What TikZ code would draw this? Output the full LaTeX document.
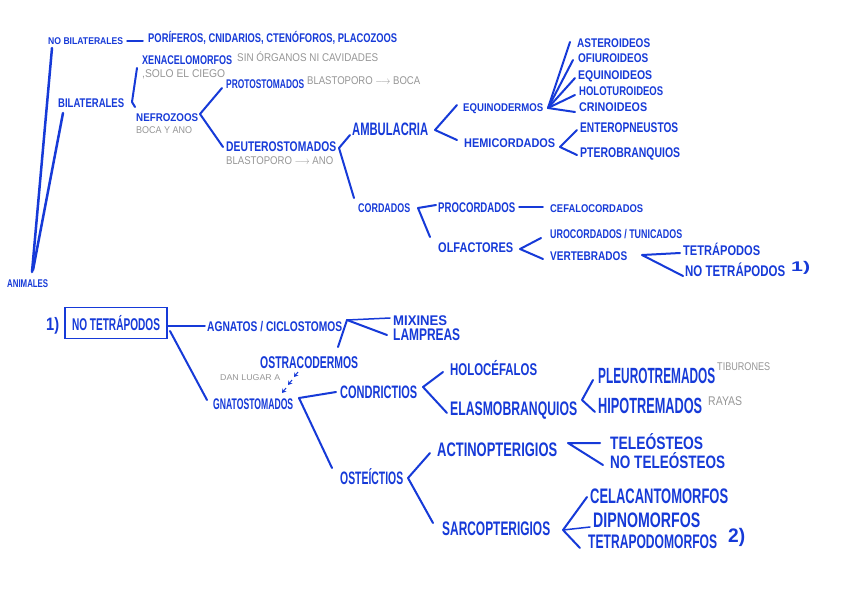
\documentclass[tikz,border=0pt]{standalone}
\usepackage{fontspec}
\setmainfont{Liberation Sans}
\usepackage{graphicx}
\usetikzlibrary{arrows.meta}
\definecolor{hb}{RGB}{22,58,216}
\definecolor{gr}{RGB}{150,150,150}
\newcommand\T[3]{\fontsize{#2}{#2}\selectfont\resizebox{#1pt}{\height}{#3}}
\begin{document}
\begin{tikzpicture}[x=1pt,y=-1pt,
  b/.style={anchor=base west,inner sep=0pt,text=hb,font=\bfseries},
  g/.style={anchor=base west,inner sep=0pt,text=gr},
  ln/.style={draw=hb,line width=2pt,line cap=round,line join=round},
  thin ln/.style={draw=hb,line width=1.5pt,line cap=round}]
\useasboundingbox (0,0) rectangle (848,600);
\fill[white] (0,0) rectangle (848,600);

% ---------- upper tree ----------
\node[b] (animales) at (7,287) {\T{41}{11.2}{ANIMALES}};
\node[b] (nobil) at (48,44.5) {\T{75}{9.8}{NO BILATERALES}};
\node[b] (porif) at (148,42.5) {\T{249}{12.6}{PORÍFEROS, CNIDARIOS, CTENÓFOROS, PLACOZOOS}};
\node[b] (bil) at (58,107.5) {\T{66}{12.6}{BILATERALES}};
\node[b] (xena) at (142,64.5) {\T{90}{12.6}{XENACELOMORFOS}};
\node[g] (xenag1) at (237,61) {\T{141}{11.2}{SIN ÓRGANOS NI CAVIDADES}};
\node[g] (xenag2) at (142,77) {\T{83}{11.2}{,SOLO EL CIEGO}};
\node[b] (nefro) at (136,121) {\T{62}{11.2}{NEFROZOOS}};
\node[g] (nefrog) at (136,133.5) {\T{56}{9.8}{BOCA Y ANO}};
\node[b] (proto) at (226,88.5) {\T{78}{12.6}{PROTOSTOMADOS}};
\node[g] (protog) at (307,84) {\T{113}{11.2}{BLASTOPORO $\longrightarrow$ BOCA}};
\node[b] (deut) at (226,151) {\T{110}{14}{DEUTEROSTOMADOS}};
\node[g] (deutg) at (226,164) {\T{107}{11.2}{BLASTOPORO $\longrightarrow$ ANO}};
\node[b] (ambu) at (352,135.5) {\T{76}{18}{AMBULACRIA}};
\node[b] (equi) at (463,111.5) {\T{80}{11.2}{EQUINODERMOS}};
\node[b] (hemi) at (464,147) {\T{91}{12.6}{HEMICORDADOS}};
\node[b] (aster) at (577,47.5) {\T{73}{12.6}{ASTEROIDEOS}};
\node[b] (ofiu) at (578,62.5) {\T{70}{12.6}{OFIUROIDEOS}};
\node[b] (equin) at (578,79.5) {\T{74}{12.6}{EQUINOIDEOS}};
\node[b] (holot) at (579,95.5) {\T{84}{12.6}{HOLOTUROIDEOS}};
\node[b] (crino) at (579,111.5) {\T{68}{12.6}{CRINOIDEOS}};
\node[b] (entero) at (580,132) {\T{98}{14}{ENTEROPNEUSTOS}};
\node[b] (ptero) at (580,157) {\T{100}{14}{PTEROBRANQUIOS}};
\node[b] (cord) at (358,212.5) {\T{52}{12.6}{CORDADOS}};
\node[b] (procord) at (438,212) {\T{77}{14}{PROCORDADOS}};
\node[b] (cefalo) at (550,212) {\T{93}{11.2}{CEFALOCORDADOS}};
\node[b] (olf) at (438,252) {\T{75}{14}{OLFACTORES}};
\node[b] (uro) at (550,238.5) {\T{132}{12.6}{UROCORDADOS / TUNICADOS}};
\node[b] (vert) at (550,260.5) {\T{77}{12.6}{VERTEBRADOS}};
\node[b] (tetra) at (683,255) {\T{77}{14}{TETRÁPODOS}};
\node[b] (notetra) at (685,276.5) {\T{100}{15.4}{NO TETRÁPODOS}};
\node[b] (ref1a) at (791,271) {\T{19}{14}{1)}};

% upper connectors
\coordinate (aA) at (32,272); \coordinate (aNB) at (52,48);
\coordinate (aA2) at (33,270); \coordinate (aB) at (63,113);
\draw[ln,line width=2.5pt] (aA) -- (aNB);
\draw[ln,line width=2.5pt] (aA2) -- (aB);
\coordinate (nb1) at (127,41); \coordinate (nb2) at (143,41);
\draw[thin ln] (nb1) -- (nb2);
\coordinate (bx1) at (137,68); \coordinate (bx2) at (132,102); \coordinate (bx3) at (135,107);
\draw[ln] (bx1) -- (bx2) -- (bx3);
\coordinate (nfV) at (200,114); \coordinate (nfT) at (222,88); \coordinate (nfB) at (223,147);
\draw[ln] (nfT) -- (nfV) -- (nfB);
\coordinate (dtV) at (339,148); \coordinate (dtT) at (350,135); \coordinate (dtB) at (354,198);
\draw[ln] (dtT) -- (dtV) -- (dtB);
\coordinate (amV) at (435,130); \coordinate (amT) at (457,105); \coordinate (amB) at (457,140);
\draw[ln] (amT) -- (amV) -- (amB);
\coordinate (eqV) at (548,108);
\coordinate (eq1) at (570,42); \coordinate (eq2) at (573,60); \coordinate (eq3) at (575,78);
\coordinate (eq4) at (575,95); \coordinate (eq5) at (575,112);
\foreach \e in {eq1,eq2,eq3,eq4,eq5} \draw[ln] (eqV) -- (\e);
\coordinate (hmV) at (560,147); \coordinate (hmT) at (577,130); \coordinate (hmB) at (577,155);
\draw[ln] (hmT) -- (hmV) -- (hmB);
\coordinate (cdV) at (418,208); \coordinate (cdT) at (436,205); \coordinate (cdB) at (430,237);
\draw[ln] (cdT) -- (cdV) -- (cdB);
\coordinate (pc1) at (519,207); \coordinate (pc2) at (543,207);
\draw[thin ln] (pc1) -- (pc2);
\coordinate (olV) at (520,249); \coordinate (olT) at (541,238); \coordinate (olB) at (543,259);
\draw[ln] (olT) -- (olV) -- (olB);
\coordinate (vtV) at (642,255); \coordinate (vtT) at (680,253); \coordinate (vtB) at (683,276);
\draw[ln] (vtT) -- (vtV) -- (vtB);

% ---------- lower tree ----------
\node[b] (ref1b) at (46,330) {\T{13}{18}{1)}};
\node[draw=hb,line width=1.5pt,minimum width=102pt,minimum height=31pt,inner sep=0pt,text=hb,font=\bfseries] (box) at (116,323) {\T{88}{17}{NO TETRÁPODOS}};
\node[b] (agn) at (207,331) {\T{135}{14}{AGNATOS / CICLOSTOMOS}};
\node[b] (mix) at (393,325) {\T{54}{14}{MIXINES}};
\node[b] (lamp) at (393,340) {\T{67}{16.8}{LAMPREAS}};
\node[b] (ostra) at (260,368) {\T{98}{17}{OSTRACODERMOS}};
\node[g] (dan) at (220,380.5) {\T{60}{8.4}{DAN LUGAR A}};
\node[b] (gnato) at (213,409) {\T{80}{15.4}{GNATOSTOMADOS}};
\node[b] (condr) at (340,398) {\T{77}{18}{CONDRICTIOS}};
\node[b] (holo) at (450,375) {\T{87}{17}{HOLOCÉFALOS}};
\node[b] (elasmo) at (450,415) {\T{127}{19.6}{ELASMOBRANQUIOS}};
\node[b] (pleuro) at (598,383) {\T{117}{22}{PLEUROTREMADOS}};
\node[g] (tibu) at (717,370) {\T{53}{11.2}{TIBURONES}};
\node[b] (hipo) at (598,413) {\T{104}{22}{HIPOTREMADOS}};
\node[g] (rayas) at (708,405) {\T{34}{12.6}{RAYAS}};
\node[b] (oste) at (340,484) {\T{63}{18}{OSTEÍCTIOS}};
\node[b] (actino) at (437,456) {\T{120}{19.6}{ACTINOPTERIGIOS}};
\node[b] (sarco) at (442,535) {\T{108}{19.6}{SARCOPTERIGIOS}};
\node[b] (teleo) at (610,449) {\T{93}{18}{TELEÓSTEOS}};
\node[b] (noteleo) at (610,468) {\T{115}{18}{NO TELEÓSTEOS}};
\node[b] (celac) at (590,503) {\T{138}{21}{CELACANTOMORFOS}};
\node[b] (dipno) at (593,527) {\T{107}{21}{DIPNOMORFOS}};
\node[b] (tetrapodo) at (588,548) {\T{129}{19.6}{TETRAPODOMORFOS}};
\node[b] (ref2) at (728,542) {\T{17}{19.6}{2)}};

% lower connectors
\coordinate (bxE) at (167,326); \coordinate (agW) at (205,326);
\draw[thin ln] (bxE) -- (agW);
\coordinate (bxS) at (170,331); \coordinate (gnW) at (207,400);
\draw[ln] (bxS) -- (gnW);
\coordinate (agV) at (347,320); \coordinate (agM) at (390,318); \coordinate (agL) at (387,335); \coordinate (agO) at (338,347);
\draw[thin ln] (agV) -- (agM);
\draw[ln] (agV) -- (agL);
\draw[ln] (agV) -- (agO);
\coordinate (ar1a) at (298,372); \coordinate (ar1b) at (294,377);
\coordinate (ar2a) at (292,380); \coordinate (ar2b) at (288,385);
\coordinate (ar3a) at (286,388); \coordinate (ar3b) at (282,393);
\foreach \s/\t in {ar1a/ar1b,ar2a/ar2b,ar3a/ar3b}
  \draw[hb,line width=1pt,-{Stealth[length=4pt,width=5pt]}] (\s) -- (\t);
\coordinate (gnV) at (299,398); \coordinate (gnT) at (336,392); \coordinate (gnB) at (332,468);
\draw[ln] (gnT) -- (gnV) -- (gnB);
\coordinate (cnV) at (423,387); \coordinate (cnT) at (443,372); \coordinate (cnB) at (447,413);
\draw[ln] (cnT) -- (cnV) -- (cnB);
\coordinate (elV) at (582,400); \coordinate (elT) at (593,380); \coordinate (elB) at (595,412);
\draw[ln] (elT) -- (elV) -- (elB);
\coordinate (osV) at (408,478); \coordinate (osT) at (430,453); \coordinate (osB) at (433,523);
\draw[ln] (osT) -- (osV) -- (osB);
\coordinate (acV) at (568,443); \coordinate (acT) at (600,443); \coordinate (acB) at (603,465);
\draw[ln] (acT) -- (acV) -- (acB);
\coordinate (saV) at (563,530); \coordinate (saT) at (587,497); \coordinate (saM) at (590,527); \coordinate (saB) at (580,548);
\draw[ln] (saT) -- (saV) -- (saB);
\draw[thin ln] (saV) -- (saM);
\end{tikzpicture}
\end{document}
